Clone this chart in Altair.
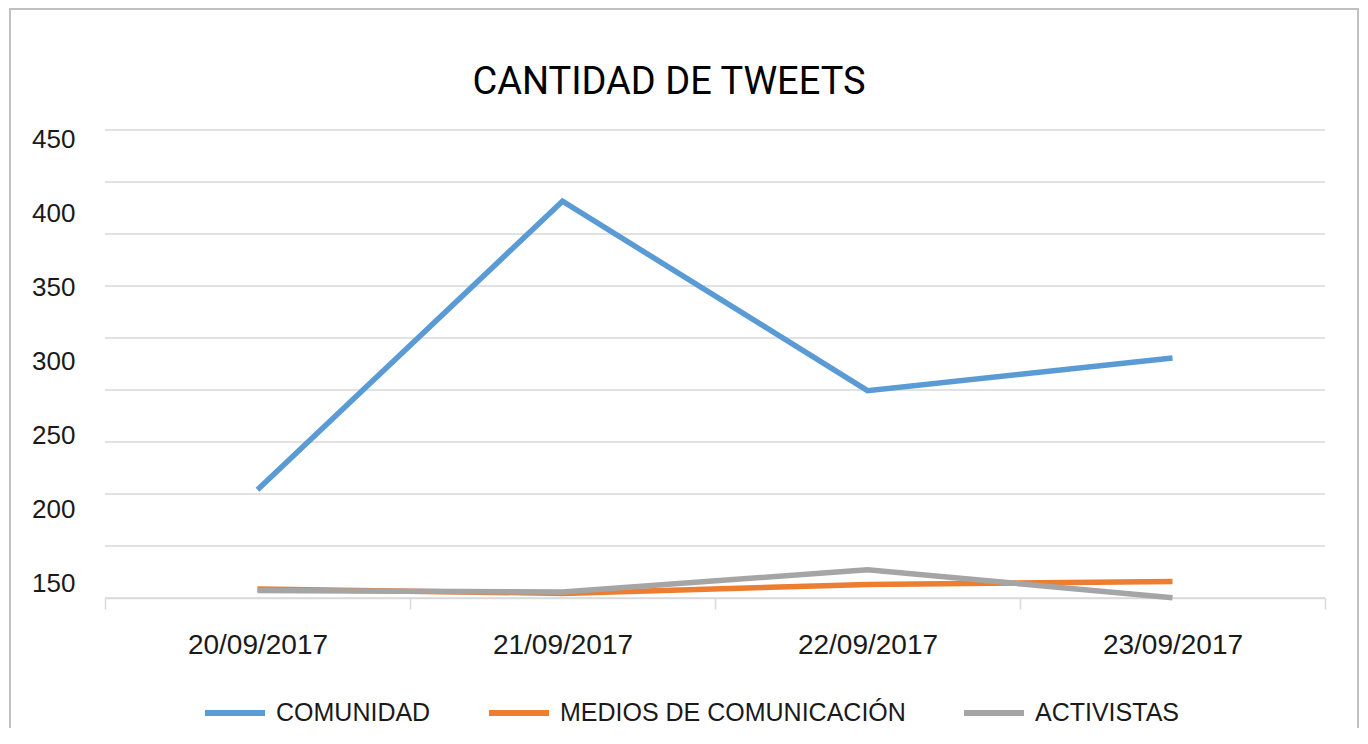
import altair as alt
import pandas as pd

# ---- data ----
dates = ["20/09/2017", "21/09/2017", "22/09/2017", "23/09/2017"]
series = ["COMUNIDAD", "MEDIOS DE COMUNICACIÓN", "ACTIVISTAS"]
comunidad = [213, 408, 280, 302]
medios = [146, 143, 149, 151]
activistas = [145, 144, 159, 140]
colors = ["#5B9BD5", "#ED7D31", "#A5A5A5"]
y_labels = [150, 200, 250, 300, 350, 400, 450]
grid_values = [0, 50, 100, 150, 200, 250, 300, 350, 400, 450]
boundaries = [0, 1, 2, 3, 4]

rows = []
for s, vals in zip(series, [comunidad, medios, activistas]):
    for d, v in zip(dates, vals):
        rows.append({"fecha": d, "serie": s, "tweets": v})
df = pd.DataFrame(rows)

W, H = 1220, 468
PAD = {"left": 97, "top": 122, "right": 35, "bottom": 130}

border = alt.Chart(pd.DataFrame({"a": [0]})).mark_rect(
    fill="white", fillOpacity=0, stroke="#c0c0c0", strokeWidth=2
).encode(
    x=alt.value(-95), x2=alt.value(1253), y=alt.value(-121), y2=alt.value(640)
)

grid = alt.Chart(pd.DataFrame({"g": grid_values})).mark_rule(
    color="#d9d9d9", strokeWidth=1.5
).encode(
    y=alt.Y("g:Q", scale=alt.Scale(domain=[0, 450], nice=False, zero=False), axis=None)
)

ticks = alt.Chart(pd.DataFrame({"b": boundaries})).mark_rule(opacity=0).encode(
    x=alt.X(
        "b:Q",
        scale=alt.Scale(domain=[0, 4], nice=False, zero=False),
        axis=alt.Axis(
            orient="bottom", values=boundaries, labels=False, ticks=True,
            tickSize=11, tickColor="#d9d9d9", tickWidth=1.5,
            domain=True, domainColor="#d9d9d9", domainWidth=1.5,
            grid=False, title=None,
        ),
    )
)

lines = alt.Chart(df).mark_line(strokeWidth=5.5).encode(
    x=alt.X(
        "fecha:N", sort=dates,
        scale=alt.Scale(type="point", padding=0.5),
        axis=alt.Axis(
            orient="bottom", ticks=False, domain=False, labelAngle=0,
            labelFontSize=28, labelPadding=33, labelColor="#1a1a1a",
            labelFont="Liberation Sans", title=None,
        ),
    ),
    y=alt.Y(
        "tweets:Q",
        scale=alt.Scale(domain=[139.9, 456.1], nice=False, zero=False),
        axis=alt.Axis(
            values=y_labels, grid=False, ticks=False, tickSize=0, domain=False,
            labelFontSize=26, labelPadding=30, labelColor="#1a1a1a",
            labelFont="Liberation Sans", title=None,
        ),
    ),
    color=alt.Color(
        "serie:N", sort=series,
        scale=alt.Scale(domain=series, range=colors),
        legend=alt.Legend(
            orient="none", legendX=97, legendY=550, direction="horizontal",
            title=None, symbolType="stroke", symbolSize=3600, symbolStrokeWidth=6,
            labelFontSize=25, labelFont="Liberation Sans", labelColor="#1a1a1a",
            labelOffset=8, columnPadding=46, labelLimit=600,
        ),
    ),
)

chart = alt.layer(border, grid, ticks, lines).resolve_scale(
    x="independent", y="independent"
).properties(
    width=W, height=H, padding=PAD,
    autosize=alt.AutoSizeParams(type="none"),
    title=alt.TitleParams(
        "CANTIDAD DE TWEETS", font="Roboto",
        fontSize=38, fontWeight="normal", color="#000000",
        anchor="middle", frame="group", dx=-46, offset=-124, baseline="alphabetic",
    ),
).configure_view(stroke=None)

chart.save("out.html", embed_options={"renderer": "svg", "actions": False})
